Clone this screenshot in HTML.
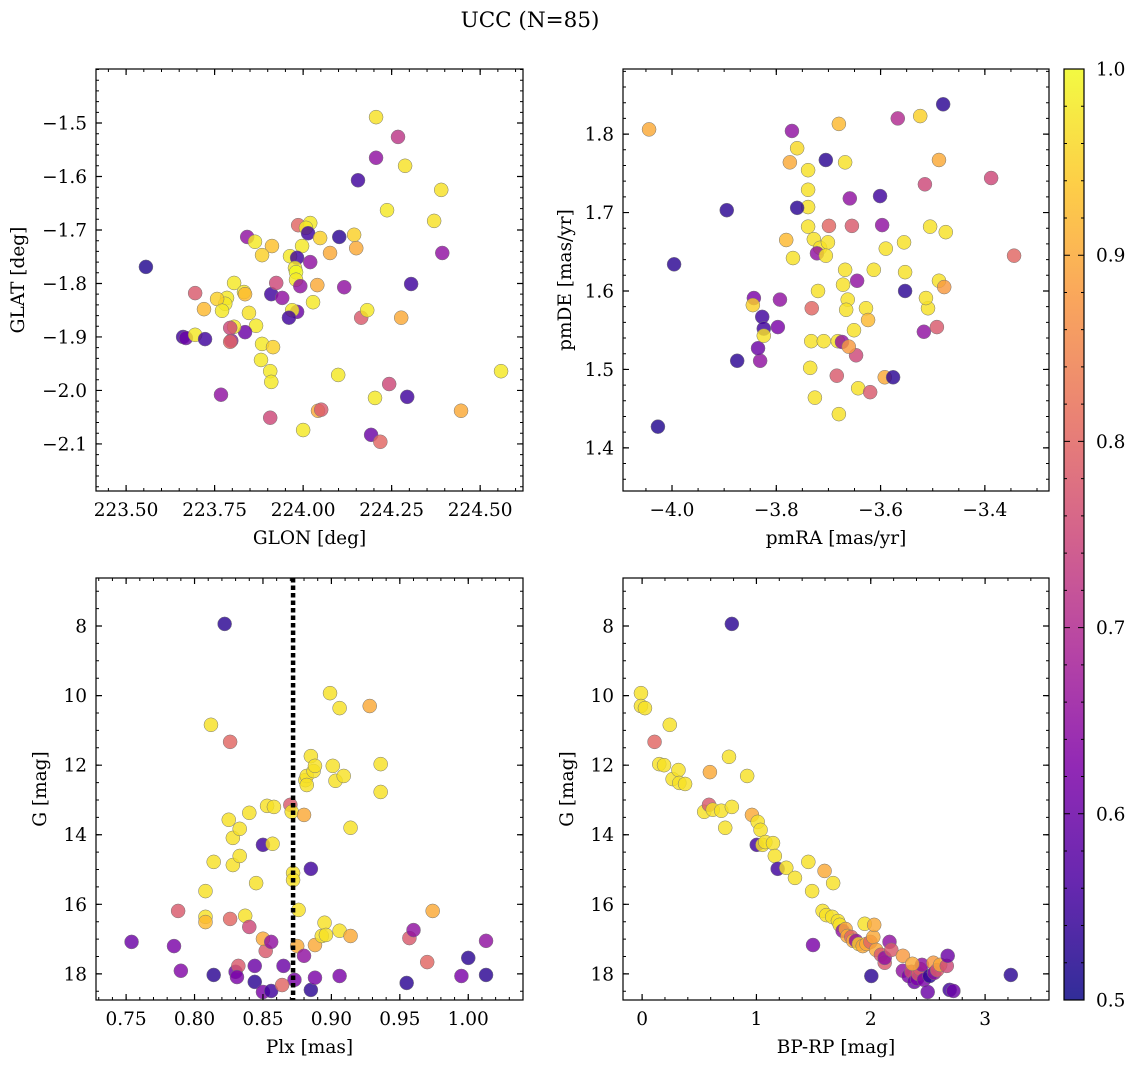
<!DOCTYPE html>
<html><head><meta charset="utf-8"><style>
html,body{margin:0;padding:0;background:#fff;}
svg{display:block;font-family:"DejaVu Serif","Liberation Serif",serif;}
</style></head><body>
<svg id="fig" width="1136" height="1068" viewBox="0 0 1136 1068" xmlns="http://www.w3.org/2000/svg">
<text x="530" y="27" text-anchor="middle" font-size="21.5">UCC (N=85)</text>
</svg>
<script>
// ---- Panel 1: GLON vs GLAT ----
const tlLon=[223.556,224.206,224.268,224.206,224.288,224.155,224.390,224.237,224.370,224.393,223.986,224.020,224.008,224.014,224.048,224.102,224.144,224.150,224.076,223.997,223.963,223.983,224.020,223.977,223.980,223.980,223.992,224.040,224.116,224.028,223.983,223.969,223.960,223.910,223.924,223.941,223.912,223.884,223.842,223.864,223.805,223.833,223.836,223.785,223.780,223.847,223.867,223.836,223.805,223.797,223.884,223.915,223.881,223.907,223.910,223.695,223.720,223.757,223.771,223.794,223.661,223.669,223.695,223.723,223.794,223.768,223.907,224.000,224.042,224.051,224.099,224.164,224.181,224.277,224.305,224.243,224.203,224.294,224.192,224.218,224.446,224.559];
const tlLat=[-1.769,-1.489,-1.526,-1.565,-1.580,-1.607,-1.625,-1.663,-1.683,-1.743,-1.691,-1.687,-1.696,-1.706,-1.715,-1.713,-1.709,-1.734,-1.743,-1.730,-1.749,-1.752,-1.760,-1.771,-1.779,-1.793,-1.805,-1.803,-1.807,-1.835,-1.853,-1.850,-1.864,-1.820,-1.799,-1.827,-1.730,-1.747,-1.713,-1.722,-1.799,-1.816,-1.820,-1.827,-1.838,-1.855,-1.879,-1.891,-1.881,-1.907,-1.913,-1.919,-1.943,-1.964,-1.984,-1.818,-1.848,-1.829,-1.851,-1.883,-1.900,-1.902,-1.896,-1.904,-1.909,-2.008,-2.051,-2.074,-2.038,-2.036,-1.971,-1.864,-1.850,-1.864,-1.801,-1.988,-2.014,-2.012,-2.083,-2.096,-2.038,-1.964];
const tlProb=[.52,.97,.72,.65,.97,.55,.97,.98,.97,.65,.8,.98,.98,.55,.95,.53,.95,.9,.9,.98,.98,.55,.65,.98,1,.98,.65,.9,.65,.98,.6,.98,.55,.55,.75,.65,.93,.95,.65,.98,.98,.98,.92,.98,.98,.97,.98,.6,.98,.65,.98,.95,.98,.98,.98,.78,.92,.95,.98,.75,.55,.6,.98,.55,.8,.65,.75,.98,.9,.78,.98,.78,.98,.9,.55,.75,.98,.55,.6,.8,.9,.98];
// ---- Panel 2: pmRA vs pmDE ----
const trRA=[-4.027,-4.044,-3.996,-3.895,-3.875,-3.831,-3.843,-3.827,-3.824,-3.835,-3.793,-3.797,-3.845,-3.824,-3.770,-3.760,-3.774,-3.739,-3.739,-3.739,-3.760,-3.705,-3.680,-3.668,-3.699,-3.739,-3.728,-3.716,-3.701,-3.722,-3.705,-3.781,-3.768,-3.732,-3.720,-3.733,-3.735,-3.726,-3.682,-3.709,-3.684,-3.659,-3.655,-3.668,-3.672,-3.663,-3.666,-3.651,-3.647,-3.674,-3.661,-3.643,-3.680,-3.645,-3.628,-3.624,-3.601,-3.597,-3.590,-3.613,-3.620,-3.592,-3.576,-3.567,-3.524,-3.553,-3.553,-3.555,-3.517,-3.515,-3.509,-3.488,-3.488,-3.478,-3.475,-3.505,-3.513,-3.388,-3.344,-3.480,-3.492];
const trDE=[1.427,1.806,1.634,1.703,1.511,1.511,1.591,1.567,1.552,1.527,1.589,1.554,1.582,1.543,1.804,1.782,1.764,1.754,1.729,1.707,1.706,1.767,1.813,1.764,1.683,1.682,1.666,1.655,1.662,1.648,1.645,1.665,1.642,1.578,1.600,1.536,1.502,1.464,1.536,1.536,1.492,1.718,1.683,1.627,1.608,1.589,1.576,1.550,1.518,1.535,1.529,1.476,1.443,1.613,1.578,1.563,1.721,1.684,1.654,1.627,1.471,1.490,1.490,1.820,1.823,1.600,1.624,1.662,1.548,1.736,1.578,1.767,1.613,1.605,1.675,1.682,1.591,1.744,1.645,1.838,1.554];
const trProb=[.52,.9,.53,.53,.53,.65,.62,.55,.55,.6,.65,.62,.95,.97,.65,.96,.9,.97,.97,.97,.53,.53,.92,.97,.8,.97,.97,.97,.97,.65,.97,.92,.97,.8,.97,.97,.97,.97,.97,.97,.78,.65,.78,.97,.97,.97,.97,.97,.75,.65,.88,.97,.97,.65,.97,.92,.55,.65,.97,.97,.78,.9,.53,.7,.95,.53,.97,.97,.65,.75,.97,.9,.97,.88,.97,.97,.97,.75,.8,.53,.78];
// ---- Panel 3: Plx vs G ----
const blPlx=[0.754,0.785,0.788,0.790,0.812,0.822,0.826,0.814,0.814,0.808,0.808,0.808,0.825,0.828,0.828,0.826,0.830,0.832,0.833,0.833,0.837,0.840,0.840,0.844,0.844,0.845,0.850,0.852,0.850,0.850,0.853,0.858,0.856,0.856,0.857,0.865,0.870,0.871,0.872,0.872,0.873,0.875,0.876,0.880,0.880,0.881,0.882,0.882,0.885,0.885,0.887,0.888,0.885,0.888,0.888,0.893,0.895,0.896,0.899,0.901,0.903,0.906,0.909,0.906,0.906,0.914,0.914,0.928,0.936,0.936,0.955,0.957,0.960,0.970,0.974,0.995,1.000,1.013,1.013,0.864,0.831];
const blG=[17.08,17.2,16.19,17.91,10.84,7.94,11.33,18.03,14.78,15.62,16.36,16.51,13.57,14.09,14.87,16.42,17.94,17.77,13.83,14.61,16.33,16.65,13.37,17.77,18.23,15.39,14.29,17.34,16.99,18.52,13.17,13.2,17.08,18.49,14.26,17.77,13.14,13.34,15.10,15.30,18.17,17.2,16.16,17.48,13.43,12.43,12.31,12.57,11.74,14.98,12.17,12.02,18.46,18.11,17.17,16.91,16.53,16.88,9.93,12.02,12.45,10.36,12.31,18.06,16.76,13.80,16.91,10.30,11.97,12.77,18.26,16.97,16.74,17.66,16.19,18.06,17.54,17.05,18.03,18.32,18.09];
const blProb=[.6,.62,.78,.63,.97,.53,.8,.53,.97,.97,.97,.92,.97,.97,.97,.8,.6,.78,.97,.97,.97,.75,.97,.6,.53,.97,.55,.78,.9,.62,.97,.97,.65,.55,.97,.6,.78,.97,.97,.97,.62,.9,.97,.65,.9,.97,.97,.97,.97,.55,.97,.97,.53,.62,.9,.97,.97,.97,.97,.97,.97,.97,.97,.62,.97,.97,.9,.9,.97,.97,.53,.78,.65,.8,.9,.62,.53,.65,.53,.8,.62];
const plxMedian=[0.872];
// ---- Panel 4: BP-RP vs G ----
const brCol=[-0.01,-0.01,0.025,0.109,0.150,0.192,0.242,0.267,0.318,0.326,0.376,0.543,0.593,0.585,0.618,0.693,0.727,0.760,0.785,0.785,0.919,0.961,1.003,1.011,1.036,1.053,1.078,1.145,1.161,1.186,1.261,1.337,1.454,1.487,1.495,1.596,1.579,1.612,1.663,1.671,1.713,1.729,1.754,1.780,1.796,1.830,1.846,1.871,1.896,1.930,1.947,1.963,1.997,2.022,2.030,2.005,2.047,2.089,2.122,2.122,2.164,2.180,2.281,2.281,2.331,2.356,2.381,2.406,2.415,2.431,2.448,2.465,2.498,2.515,2.548,2.556,2.581,2.607,2.665,2.673,2.690,2.723,3.225,2.364];
const brG=[9.93,10.30,10.36,11.33,11.97,12.0,10.84,12.40,12.14,12.51,12.54,13.34,12.20,13.14,13.28,13.31,13.80,11.76,13.20,7.94,12.31,13.43,14.29,13.63,13.86,14.29,14.21,14.24,14.61,14.98,14.95,15.24,14.78,15.62,17.17,15.04,16.19,16.31,16.36,15.39,16.48,16.59,16.76,16.71,16.91,16.94,17.05,17.05,17.14,17.20,16.56,17.14,17.08,16.94,16.59,18.06,17.31,17.45,17.68,17.54,17.08,17.31,17.48,17.91,18.06,17.94,18.23,18.14,18.00,17.86,17.74,18.17,18.52,18.06,17.68,17.97,17.89,17.74,17.77,17.48,18.46,18.49,18.03,17.71];
const brProb=[.97,.97,.97,.8,.97,.97,.97,.97,.97,.97,.97,.97,.9,.78,.97,.97,.97,.97,.97,.53,.97,.9,.55,.97,.97,.97,.97,.97,.97,.55,.97,.97,.97,.97,.62,.9,.97,.97,.97,.97,.97,.97,.65,.9,.9,.8,.9,.65,.95,.9,.97,.9,.8,.9,.9,.53,.9,.78,.78,.65,.65,.78,.88,.65,.62,.75,.6,.62,.78,.78,.65,.62,.6,.53,.88,.65,.78,.9,.75,.6,.55,.6,.53,.9];
// ---- Colorbar ----
const cbTicks=[0.5,0.6,0.7,0.8,0.9,1.0];

const NS="http://www.w3.org/2000/svg";
const svg=document.getElementById('fig');
const FS=18.5;
function mk(tag,attrs,parent){const e=document.createElementNS(NS,tag);for(const k in attrs)e.setAttribute(k,attrs[k]);(parent||svg).appendChild(e);return e;}
const stops=["#0d0887","#4c02a1","#7e03a8","#a92395","#cc4778","#e66c5c","#f89540","#fdc527","#f0f921"];
function hex(c){return [parseInt(c.slice(1,3),16),parseInt(c.slice(3,5),16),parseInt(c.slice(5,7),16)];}
function plasma(t){t=Math.max(0,Math.min(1,t));const f=t*8,i=Math.min(7,Math.floor(f)),u=f-i;const a=hex(stops[i]),b=hex(stops[i+1]);return `rgb(${a.map((v,k)=>Math.round(v+(b[k]-v)*u)).join(',')})`;}
function cmap(p){return plasma((p-0.5)/0.5);}
function fmt(v,d){const s=Math.abs(v).toFixed(d);return (v<-1e-9?'\u2212':'')+s;}

function panel(o){
  const g=mk('g',{});
  
  
  const sx=v=>o.x0+(v-o.xmin)/(o.xmax-o.xmin)*(o.x1-o.x0);
  const sy=v=>o.inv? o.y0+(v-o.ymin)/(o.ymax-o.ymin)*(o.y1-o.y0) : o.y1-(v-o.ymin)/(o.ymax-o.ymin)*(o.y1-o.y0);
  const pg=mk('g',{},g);
  
  
  for(let i=0;i<o.xs.length;i++){
    const c=mk('circle',{cx:sx(o.xs[i]),cy:sy(o.ys[i]),r:7,fill:cmap(o.ps[i]),'fill-opacity':0.82,stroke:'#777','stroke-width':0.5},pg);
    
    
  }
  if(o.vline!==undefined){
    const l=mk('line',{x1:sx(o.vline),x2:sx(o.vline),y1:o.y0,y2:o.y1,stroke:'#000','stroke-width':4.5,'stroke-dasharray':'4.5 3'},g);
    
    
  }
  const fr=mk('rect',{x:o.x0,y:o.y0,width:o.x1-o.x0,height:o.y1-o.y0,fill:'none',stroke:'#000','stroke-width':1.2},g);
  
  
  let d='';
  for(let v=Math.ceil(o.xmin/o.xmn-1e-6)*o.xmn;v<=o.xmax+1e-9;v+=o.xmn){const x=sx(v);d+=`M${x},${o.y1}v-3M${x},${o.y0}v3`;}
  for(let v=Math.ceil(o.ymin/o.ymn-1e-6)*o.ymn;v<=o.ymax+1e-9;v+=o.ymn){const y=sy(v);d+=`M${o.x0},${y}h3M${o.x1},${y}h-3`;}
  mk('path',{d:d,stroke:'#000','stroke-width':1,fill:'none'},g);
  d='';
  o.xt.forEach(v=>{const x=sx(v);d+=`M${x},${o.y1}v-6M${x},${o.y0}v6`;
    const t=mk('text',{x:x,y:o.y1+25,'text-anchor':'middle','font-size':FS},g);t.textContent=fmt(v,o.xd);
    });
  o.yt.forEach(v=>{const y=sy(v);d+=`M${o.x0},${y}h6M${o.x1},${y}h-6`;
    const t=mk('text',{x:o.x0-9,y:y+6.5,'text-anchor':'end','font-size':FS},g);t.textContent=fmt(v,o.yd);
    });
  mk('path',{d:d,stroke:'#000','stroke-width':1.2,fill:'none'},g);
  const xl=mk('text',{x:(o.x0+o.x1)/2,y:o.y1+53,'text-anchor':'middle','font-size':FS},g);xl.textContent=o.xlab;
  
  const yx=o.ylx, yy=(o.y0+o.y1)/2;
  const yl=mk('text',{x:yx,y:yy,'text-anchor':'middle','font-size':FS,transform:`rotate(-90 ${yx} ${yy})`},g);yl.textContent=o.ylab;
  
}
panel({name:'glon-glat-panel',x0:96,x1:523,y0:69,y1:491,xmin:223.415,xmax:224.621,ymin:-2.188,ymax:-1.399,xs:tlLon,ys:tlLat,ps:tlProb,xt:[223.5,223.75,224.0,224.25,224.5],xd:2,yt:[-2.1,-2.0,-1.9,-1.8,-1.7,-1.6,-1.5],yd:1,xmn:0.05,ymn:0.02,xlab:'GLON [deg]',ylab:'GLAT [deg]',ylx:24});
panel({name:'proper-motion-panel',x0:623,x1:1049,y0:69,y1:491,xmin:-4.094,xmax:-3.277,ymin:1.345,ymax:1.883,xs:trRA,ys:trDE,ps:trProb,xt:[-4.0,-3.8,-3.6,-3.4],xd:1,yt:[1.4,1.5,1.6,1.7,1.8],yd:1,xmn:0.05,ymn:0.02,xlab:'pmRA [mas/yr]',ylab:'pmDE [mas/yr]',ylx:571});
panel({name:'plx-g-panel',x0:96,x1:523,y0:578,y1:1000,xmin:0.728,xmax:1.040,ymin:6.62,ymax:18.75,inv:true,xs:blPlx,ys:blG,ps:blProb,xt:[0.75,0.8,0.85,0.9,0.95,1.0],xd:2,yt:[8,10,12,14,16,18],yd:0,xmn:0.01,ymn:0.5,xlab:'Plx [mas]',ylab:'G [mag]',ylx:46,vline:plxMedian[0]});
panel({name:'cmd-panel',x0:623,x1:1049,y0:578,y1:1000,xmin:-0.167,xmax:3.559,ymin:6.62,ymax:18.75,inv:true,xs:brCol,ys:brG,ps:brProb,xt:[0,1,2,3],xd:0,yt:[8,10,12,14,16,18],yd:0,xmn:0.2,ymn:0.5,xlab:'BP-RP [mag]',ylab:'G [mag]',ylx:573});

const cb=mk('g',{});


const defs=mk('defs',{},cb);
const lg=mk('linearGradient',{id:'cbg',x1:0,y1:1,x2:0,y2:0},defs);
for(let i=0;i<=16;i++){mk('stop',{offset:i/16,'stop-color':plasma(i/16),'stop-opacity':0.85},lg);}
const cy0=69,cy1=1000,cx0=1064,cx1=1084;
mk('rect',{x:cx0,y:cy0,width:cx1-cx0,height:cy1-cy0,fill:'url(#cbg)',stroke:'#000','stroke-width':1.2},cb);
const cyv=v=>cy1-(v-0.5)/0.5*(cy1-cy0);
let cd='';
for(let v=0.5;v<=1.0001;v+=0.02){const y=cyv(v);cd+=`M${cx1},${y}h-3M${cx0},${y}h3`;}
cbTicks.forEach(v=>{const y=cyv(v);cd+=`M${cx1},${y}h-6M${cx0},${y}h6`;
  const t=mk('text',{x:cx1+12,y:y+6.5,'font-size':FS},cb);t.textContent=v.toFixed(1);
  });
mk('path',{d:cd,stroke:'#000','stroke-width':1,fill:'none'},cb);
</script>
</body></html>
